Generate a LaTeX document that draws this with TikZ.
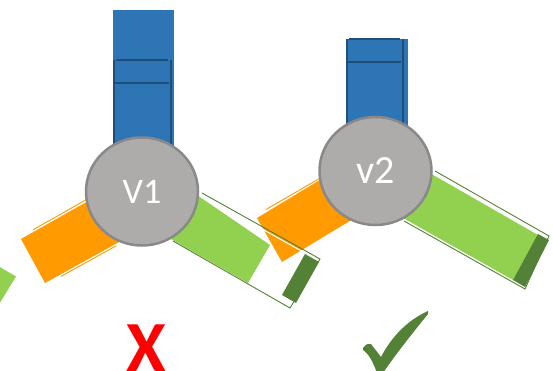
\documentclass[tikz,border=0pt]{standalone}
\usepackage{fontspec}
\setmainfont{Carlito}
\usetikzlibrary{shapes.geometric}
\definecolor{barblue}{HTML}{2E75B6}
\definecolor{darkblue}{HTML}{1F4E79}
\definecolor{barorange}{HTML}{FF9A00}
\definecolor{lightgreen}{HTML}{92D050}
\definecolor{darkgreen}{HTML}{538135}
\definecolor{discfill}{HTML}{AEABAB}
\definecolor{discline}{HTML}{8A8888}
\tikzset{
  bluefill/.style={fill=barblue},
  blueline/.style={draw=darkblue, line width=2pt},
  orangefill/.style={fill=barorange},
  orangeline/.style={draw=barorange, line width=0.9pt},
  greenfill/.style={fill=lightgreen},
  capfill/.style={fill=darkgreen},
  outline/.style={draw=darkgreen, line width=0.9pt, line join=miter},
  gapline/.style={draw=white, line width=1pt},
  disc/.style={ellipse, fill=discfill, draw=discline, line width=2.5pt, inner sep=0pt,
    text=white, minimum width=112pt, minimum height=108pt},
  markx/.style={text=red, font=\bfseries\fontsize{72}{72}\selectfont, anchor=base, inner sep=0pt},
}
\begin{document}
\begin{tikzpicture}[x=1pt, y=-1pt]
\useasboundingbox (0,0) rectangle (553,371);
\clip (0,0) rectangle (553,371);
% blue bars
\fill[bluefill] (113,10) rectangle (174,200);
\draw[blueline] (114,60) -- (114,148);
\draw[blueline] (171,60) -- (171,149);
\draw[blueline] (116,60) -- (168,60);
\draw[blueline] (114,83) -- (169,83);
\fill[bluefill] (347,39) rectangle (408,180);
\draw[blueline] (347,39) -- (347,127);
\draw[blueline] (403,39) -- (403,128);
\draw[blueline] (349,39) -- (400,39);
\draw[blueline] (347,62) -- (401,62);
% partial green bar at the left edge
\fill[greenfill] (-2,266) -- (16,276.5) -- (-2,306) -- cycle;
% V1 orange bar
\fill[orangefill] (21,239) -- (45,283) -- (130,236) -- (106,191) -- cycle;
\draw[orangeline] (33,229.8) -- (90,197.5);
\draw[orangeline] (61,276.4) -- (116,245.9);
% V1 green bar fill
\fill[greenfill] (175,180) -- (270,245) -- (248,283) -- (150,227) -- cycle;
% V2 orange bar
\fill[orangefill] (257,218) -- (282,262) -- (358,216) -- (333,172) -- cycle;
\draw[orangeline] (266,209.5) -- (322,177);
% V2 green bar fill
\fill[greenfill] (400,156) -- (538,235) -- (513,280) -- (380,205) -- cycle;
% V1 green outline and cap
\draw[gapline] (201,194.8) -- (318,260.3);
\fill[capfill] (305,254) -- (319,262) -- (296,303) -- (282,295) -- cycle;
\draw[outline] (202,193) -- (320,259) -- (290,308) -- (173,241);
% V2 green outline and cap
\fill[capfill] (538,234) -- (549,240) -- (525,287) -- (513,280) -- cycle;
\draw[outline] (435,171) -- (549,236) -- (525,289) -- (404,221);
% discs
\node[disc, font=\fontsize{36}{36}\selectfont] (v1) at (142,191.5) {V1};
\node[disc, font=\fontsize{40}{40}\selectfont] (v2) at (375.5,171) {v2};
% marks
\node[markx] (cross) at (146,371) {X};
\fill[darkgreen] (363,348)
  .. controls (366,344) and (369,343) .. (371,344)
  -- (381,357)
  .. controls (392,336) and (408,320) .. (428,311)
  -- (428,314)
  .. controls (415,330) and (395,355) .. (383,373)
  -- (377,373)
  .. controls (373,362) and (369,354) .. (363,350)
  -- cycle;
\end{tikzpicture}
\end{document}
